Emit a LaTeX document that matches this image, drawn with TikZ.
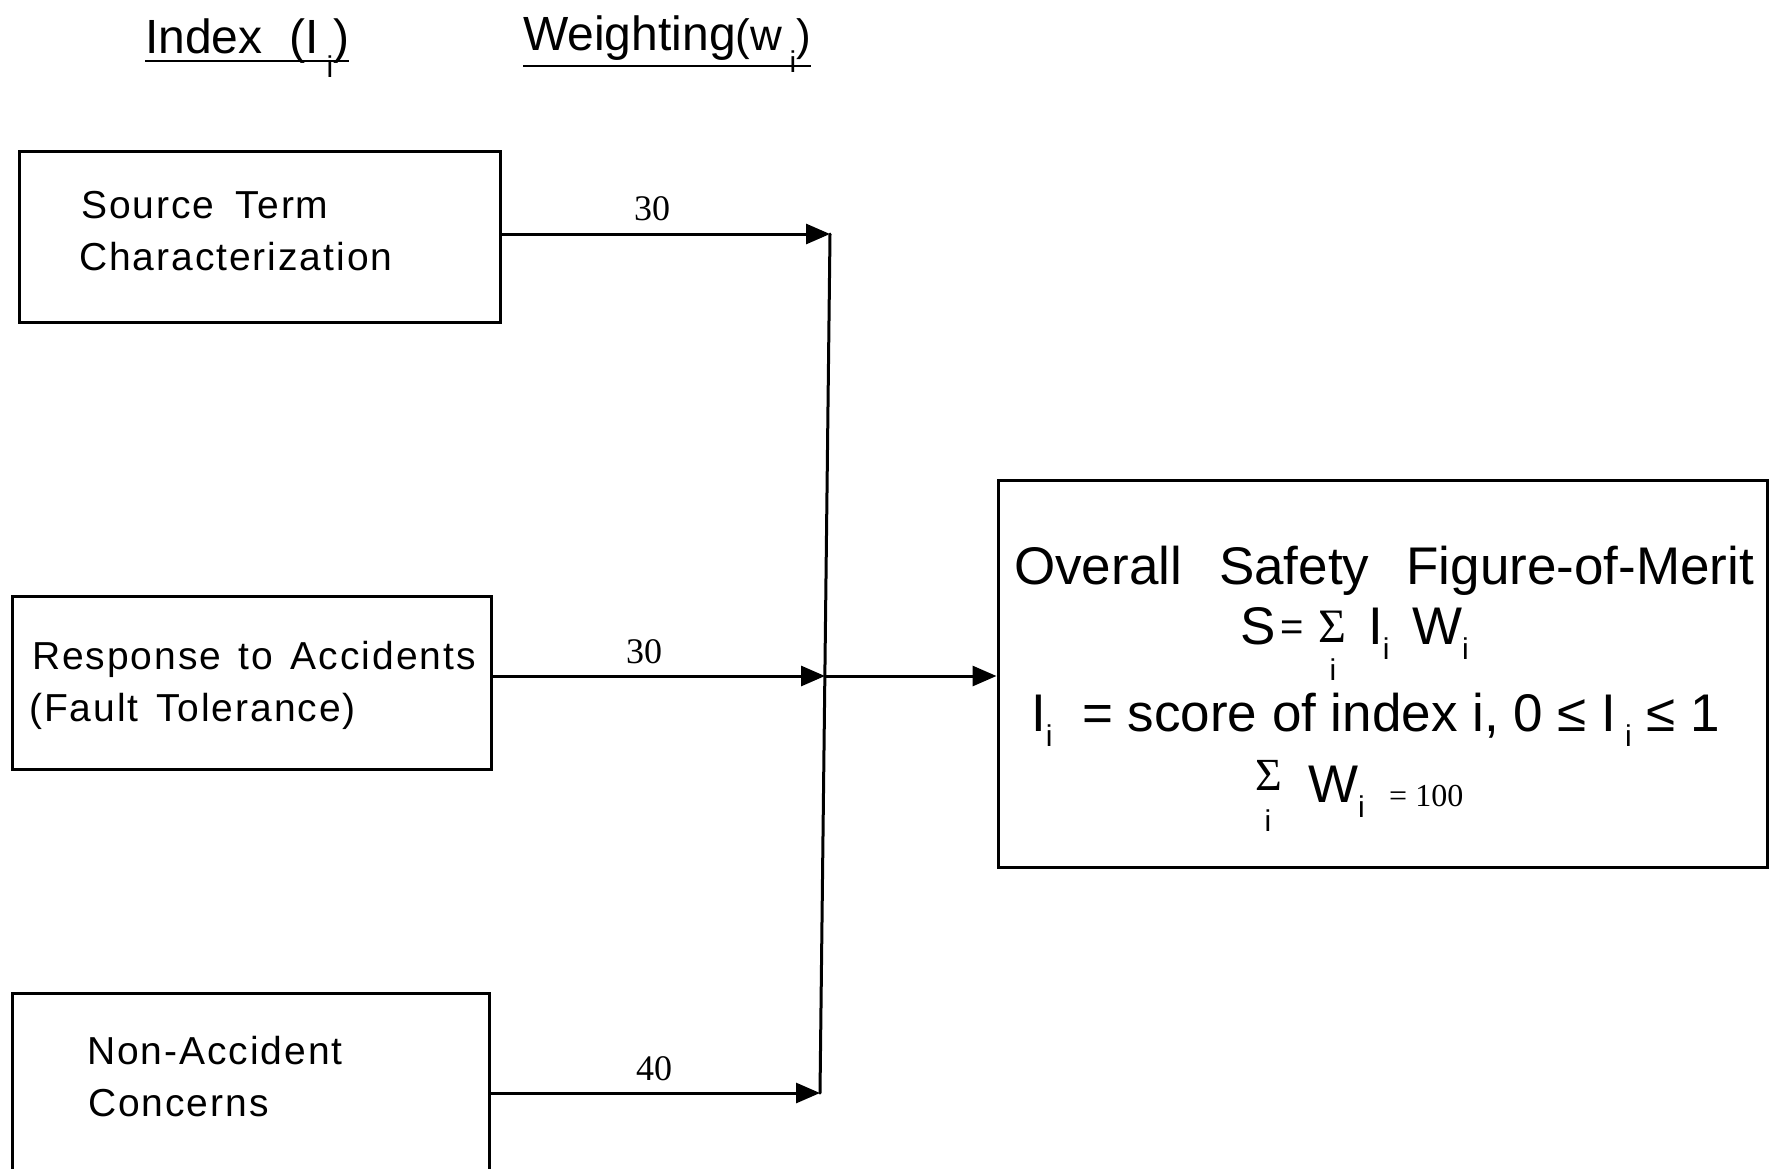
\documentclass[tikz,border=0pt]{standalone}
\usepackage{fontspec}
\setmainfont{Liberation Sans}
\newfontfamily\boxfont[LetterSpace=5]{Liberation Sans}
\newfontfamily\seriffont{Liberation Serif}
\usetikzlibrary{arrows.meta}
\newcommand{\subi}[1]{\raisebox{-0.3em}{\fontsize{#1}{#1}\selectfont i}}
\newcommand{\lowi}[1]{\raisebox{-0.5em}{\fontsize{#1}{#1}\selectfont i}}
\begin{document}
\begin{tikzpicture}[x=1pt,y=-1pt,
  box/.style={draw,line width=3pt,inner sep=0pt,rectangle},
  arr/.style={line width=3pt,-{Triangle[length=24pt,width=20pt]}},
  lbl/.style={inner sep=0pt,anchor=base west},
  btxt/.style={lbl,font=\boxfont\fontsize{39}{47}\selectfont},
  ftxt/.style={lbl,font=\fontsize{53}{60}\selectfont},
  wnum/.style={inner sep=0pt,font=\seriffont\fontsize{36}{40}\selectfont},
  hdr/.style={lbl,font=\fontsize{48}{56}\selectfont}]
\clip (0,0) rectangle (1771,1168);
\fill[white] (0,0) rectangle (1771,1168);

% headers
\node[hdr] (hidx) at (145,53) {Index\ \ (I\,\lowi{30})};
\draw[line width=2.5pt] ([yshift=-8pt]hidx.base west) -- ([yshift=-8pt]hidx.base east);
\node[hdr] (hwt) at (523,50) {Weighting{\fontsize{44}{48}\selectfont(w\,\lowi{30})}};
\draw[line width=2.5pt] ([yshift=-16pt]hwt.base west) -- ([yshift=-16pt]hwt.base east);

% index boxes
\node[box,minimum width=481pt,minimum height=171pt] (src) at (259.5,236.5) {};
\node[btxt] (srcA) at (81,218) {Source\hspace{0.55em}Term};
\node[btxt] (srcB) at (79,270) {Characterization};

\node[box,minimum width=479pt,minimum height=173pt] (resp) at (251.5,682.5) {};
\node[btxt] (respA) at (32,669) {Response\hspace{0.45em}to\hspace{0.45em}Accidents};
\node[btxt] (respB) at (29,721) {(Fault\hspace{0.45em}Tolerance)};

\node[box,minimum width=477pt,minimum height=190pt] (nonacc) at (250.5,1088) {};
\node[btxt] (nonA) at (87,1064) {Non-Accident};
\node[btxt] (nonB) at (88,1116) {Concerns};

% result box
\node[box,minimum width=769pt,minimum height=387pt] (fom) at (1382.5,673.5) {};
\node[ftxt] (fomT) at (1014,584) {Overall\hspace{0.7em}Safety\hspace{0.7em}Figure-of-Merit};
\node[ftxt] (eqS) at (1240,644) {S};
\node[lbl,font=\fontsize{40}{44}\selectfont] (eqEq) at (1280,640) {=};
\node[lbl,font=\seriffont\fontsize{48}{52}\selectfont] (eqSig) at (1318,642) {Σ};
\node[inner sep=0pt,font=\fontsize{30}{34}\selectfont] (eqSigI) at (1333,670) {i};
\node[ftxt] (eqI) at (1368,644) {I\subi{30}};
\node[ftxt] (eqW) at (1412,644) {W\subi{30}};

\node[ftxt] (defI) at (1031,731) {I\subi{30}\ \ = score\ of\ index\ i,\ 0\ ≤\ I\,\subi{30}\ ≤\ 1};

\node[lbl,font=\seriffont\fontsize{46}{50}\selectfont] (sumSig) at (1255,790) {Σ};
\node[inner sep=0pt,font=\fontsize{30}{34}\selectfont] (sumSigI) at (1268,821) {i};
\node[ftxt] (sumW) at (1308,802) {W\subi{30}};
\node[lbl,font=\seriffont\fontsize{32}{36}\selectfont] (sumEq) at (1389,806) {= 100};

% connectors
\coordinate (j1) at (830,234);
\coordinate (j2) at (825,676);
\coordinate (j3) at (820,1093);
\draw[arr] (src.east |- j1) -- (j1);
\draw[arr] (resp.east |- j2) -- (j2);
\draw[arr] (nonacc.east |- j3) -- (j3);
\draw[line width=3pt,line cap=round] (j1) -- (j3);
\draw[arr] (j2) -- (fom.west |- j2);

% weights
\node[wnum] (w1) at (652,209) {30};
\node[wnum] (w2) at (644,652) {30};
\node[wnum] (w3) at (654,1069) {40};
\end{tikzpicture}
\end{document}
